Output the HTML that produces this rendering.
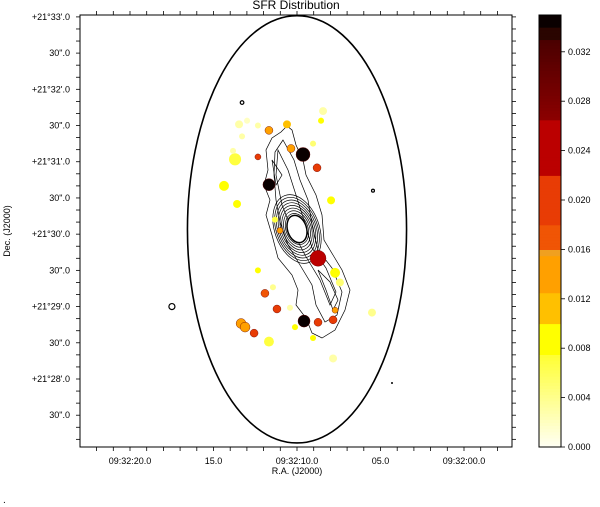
<!DOCTYPE html>
<html><head><meta charset="utf-8"><style>
html,body{margin:0;padding:0;background:#fff;}
svg{display:block;font-family:"Liberation Sans","DejaVu Sans",sans-serif;}
</style></head><body>
<svg id="c" width="600" height="507" viewBox="0 0 600 507"></svg>
<script>
// ---- data (RA seconds past 09:32, Dec arcsec past +21°28'00") ----
const spotRA  = [8.44,13.47,12.99,12.34,10.60,8.56,11.68,13.29,9.04,10.36,9.64,12.34,13.71,13.83,8.80,11.68,14.37,7.96,13.59,11.02,11.32,8.74,7.72,7.43,12.34,11.92,11.44,11.20,10.42,7.72,5.51,9.58,8.74,7.84,13.35,13.11,12.57,10.12,9.04,11.68,7.84];
const spotDec = [222,211,214,210,211,214,206,201,195,191,186,184,182,189,175,161,160,148,145,123,132,100,88,80,90,71,76,58,59,57,55,48,47,49,46,43,38,43,34,31,17];
const spotSFR = [0.003,0.003,0.002,0.003,0.010,0.008,0.014,0.003,0.005,0.014,0.034,0.019,0.007,0.003,0.019,0.034,0.009,0.008,0.009,0.013,0.007,0.026,0.008,0.005,0.008,0.017,0.004,0.020,0.003,0.014,0.004,0.034,0.019,0.019,0.014,0.014,0.021,0.009,0.009,0.007,0.003];
const spotSize = [3.3,3.3,2.5,2.5,3.3,2.5,3.3,2.5,2.5,3.3,5.8,2.5,5,2.5,3.3,5,4.1,3.3,3.3,2.5,2.5,6.6,4.1,3.3,2.5,3.3,2.5,3.3,2.5,2.5,3.3,5,3.3,3.3,4.1,4.1,3.3,2.5,2.5,4.1,3.3];
const ringRA = [13.29,17.49,5.45];
const ringDec = [229,60,156];
const ringSize = [1.5,2.5,1.2];
const apertureRA = 10, apertureDec = 124, apertureHalfRA = 6.56, apertureHalfDec = 177;
const raTickLabels = ["09:32:20.0","15.0","09:32:10.0","05.0","09:32:00.0"];
const raTickValues = [20,15,10,5,0];
const decTickLabels = ["+21°33'.0","30\".0","+21°32'.0","30\".0","+21°31'.0","30\".0","+21°30'.0","30\".0","+21°29'.0","30\".0","+21°28'.0","30\".0"];
const decTickValues = [300,270,240,210,180,150,120,90,60,30,0,-30];
const cbarTickLabels = ["0.000","0.004","0.008","0.012","0.016","0.020","0.024","0.028","0.032"];
const cbarTickValues = [0,0.004,0.008,0.012,0.016,0.020,0.024,0.028,0.032];
const cbarMax = 0.035;

// ---- axes ----
const L=80,R=512,T=15,B=447;
const xS = s => 297 + (10 - s)*16.7;
const yD = d => 379 - d*1.207;
const pxPerArcsec = 1.207;
const cbL=539,cbR=561;
const yC = v => B - v/0.004*49.4;
const NS="http://www.w3.org/2000/svg";
const svg=document.getElementById('c');
function mk(tag,attrs,parent){const e=document.createElementNS(NS,tag);for(const k in attrs)e.setAttribute(k,attrs[k]);(parent||svg).appendChild(e);return e;}
function lerp(a,b,t){return a.map((v,i)=>Math.round(v+(b[i]-v)*t));}
function rgb(a){return `rgb(${a[0]},${a[1]},${a[2]})`;}
function cmap(v){
  if(v>=0.034) return '#0a0000';
  if(v>=0.033) return '#2a0500';
  if(v>=0.0265) return rgb(lerp([140,0,0],[74,0,0],(v-0.0265)/0.0065));
  if(v>=0.022) return '#bb0000';
  if(v>=0.018) return '#e83c05';
  if(v>=0.016) return '#f05505';
  if(v>=0.0155) return '#f0a020';
  if(v>=0.0125) return '#ffa000';
  if(v>=0.010) return '#ffc000';
  if(v>=0.0075) return '#ffff00';
  return rgb(lerp([255,255,245],[255,255,50],v/0.0075));
}

// title & labels
let t=mk('text',{x:296,y:9,'font-size':12,'text-anchor':'middle',fill:'#000'});t.textContent='SFR Distribution';

t=mk('text',{x:0,y:0,'font-size':9,'text-anchor':'middle',transform:'translate(10,231) rotate(-90)'});t.textContent='Dec. (J2000)';

t=mk('text',{x:297,y:474,'font-size':9,'text-anchor':'middle'});t.textContent='R.A. (J2000)';

t=mk('text',{x:3,y:503,'font-size':10});t.textContent='.';


// aperture ellipse
let e=mk('ellipse',{cx:xS(apertureRA),cy:yD(apertureDec),rx:apertureHalfRA*16.7,ry:apertureHalfDec*pxPerArcsec,fill:'none',stroke:'#000','stroke-width':1.6});


// contours (galaxy)
const cg=mk('g',{fill:'none',stroke:'#000','stroke-width':0.7});

mk('path',{d:'M287,126 L281,132 L272,138 L266,150 L268,170 L264,185 L270,200 L266,215 L272,235 L278,258 L292,275 L298,290 L296,305 L306,318 L312,333 L322,338 L335,330 L345,310 L350,290 L342,270 L333,255 L324,240 L322,215 L316,195 L306,175 L303,160 L296,145 L292,130 Z'},cg);
mk('path',{d:'M283,140 L275,152 L274,175 L276,200 L280,222 L288,245 L300,265 L312,285 L316,305 L325,322 L337,315 L342,292 L332,268 L318,250 L312,225 L308,200 L300,180 L294,160 Z'},cg);
mk('path',{d:'M278,150 L276,175 L282,205 L292,230 L305,255 L320,280 L330,305 L336,292 L326,268 L312,248 L304,220 L296,195 L288,170 Z'},cg);
mk('path',{d:'M318,270 L326,290 L333,310 L338,300 L330,282 Z'},cg);
mk('path',{d:'M272,160 L276,185 L282,175 Z'},cg);
for(let i=0;i<8;i++){mk('ellipse',{cx:297,cy:229,rx:11+i*1.6,ry:16+i*2.8,transform:'rotate(-20 297 229)'},cg);}
mk('ellipse',{cx:297,cy:229,rx:9.5,ry:14,fill:'#fff',stroke:'#000','stroke-width':1.5,transform:'rotate(-18 297 229)'},cg);

// spots
spotRA.forEach((s,i)=>{
  const c=mk('circle',{cx:xS(s),cy:yD(spotDec[i]),r:spotSize[i]*pxPerArcsec,fill:cmap(spotSFR[i]),stroke:spotSFR[i]>0.012?'#600':'none','stroke-width':0.4});
  
  
});
ringRA.forEach((s,i)=>{
  const c=mk('circle',{cx:xS(s),cy:yD(ringDec[i]),r:ringSize[i]*pxPerArcsec,fill:'none',stroke:'#000','stroke-width':1.2});
  
  
});
mk('circle',{cx:392,cy:383,r:1,fill:'#000'});

// frame
let f=mk('rect',{x:L,y:T,width:R-L,height:B-T,fill:'none',stroke:'#000','stroke-width':1});

// x ticks
for(let s=23;s>=-2;s--){const x=xS(s);if(x<L||x>R)continue;mk('line',{x1:x,y1:B,x2:x,y2:B+4,stroke:'#000','stroke-width':0.8});mk('line',{x1:x,y1:T,x2:x,y2:T-4,stroke:'#000','stroke-width':0.8});}
raTickValues.forEach((v,i)=>{const tt=mk('text',{x:xS(v),y:464,'font-size':9,'text-anchor':'middle'});tt.textContent=raTickLabels[i];
 });
// y ticks
for(let d=300;d>=-60;d-=10){const y=yD(d);if(y<T-0.5||y>B)continue;mk('line',{x1:L,y1:y,x2:L-4,y2:y,stroke:'#000','stroke-width':0.8});mk('line',{x1:R,y1:y,x2:R+4,y2:y,stroke:'#000','stroke-width':0.8});}
decTickValues.forEach((v,i)=>{const tt=mk('text',{x:70,y:yD(v)+3,'font-size':9,'text-anchor':'end'});tt.textContent=decTickLabels[i];
 });

// colorbar
const cb=mk('g',{});
const step=0.00025;
for(let v=0;v<cbarMax;v+=step){mk('rect',{x:cbL,y:yC(v+step),width:cbR-cbL,height:yC(v)-yC(v+step)+0.6,fill:cmap(v+step/2)},cb);}
mk('rect',{x:cbL,y:T,width:cbR-cbL,height:B-T,fill:'none',stroke:'#000','stroke-width':1},cb);
cbarTickValues.forEach((v,i)=>{mk('line',{x1:cbR,y1:yC(v),x2:cbR+4,y2:yC(v),stroke:'#000','stroke-width':0.8},cb);
 const tt=mk('text',{x:568,y:yC(v)+3,'font-size':9},cb);tt.textContent=cbarTickLabels[i];
 });
</script>
</body></html>
